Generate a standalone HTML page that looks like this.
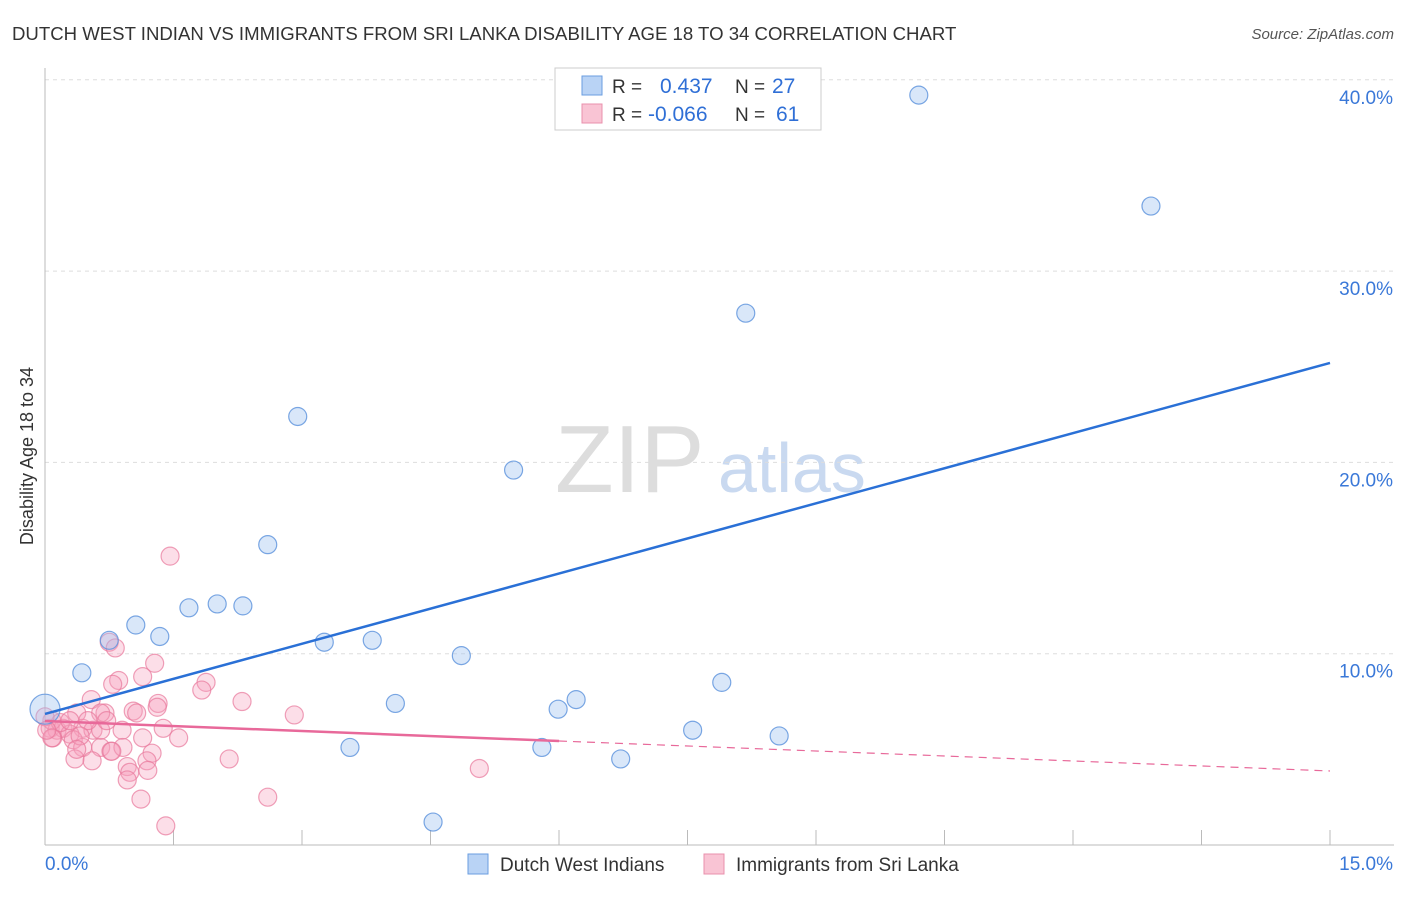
<!DOCTYPE html>
<html><head><meta charset="utf-8"><style>
body{margin:0;background:#fff;font-family:"Liberation Sans",sans-serif}
svg text{font-family:"Liberation Sans",sans-serif}
</style></head><body>
<svg id="chart" width="1406" height="892" xmlns="http://www.w3.org/2000/svg">
<text x="12" y="40" font-size="18.6" fill="#333">DUTCH WEST INDIAN VS IMMIGRANTS FROM SRI LANKA DISABILITY AGE 18 TO 34 CORRELATION CHART</text>
<text x="1394" y="39" font-size="15" fill="#555" text-anchor="end" font-style="italic">Source: ZipAtlas.com</text>
<text x="33" y="456" font-size="18" fill="#333" text-anchor="middle" transform="rotate(-90 33 456)">Disability Age 18 to 34</text>
<text x="555" y="492" font-size="96" fill="#ddd" font-family="Liberation Serif">ZIP</text>
<text x="718" y="492" font-size="70" fill="#c9d9f0">atlas</text>
<g id="grid"></g><g id="axes"></g><g id="pts"></g><g id="lines"></g>
<g>
<rect x="555" y="68" width="266" height="62" fill="#fff" stroke="#ccc"/>
<rect x="582" y="76" width="20" height="19" fill="#b9d3f5" stroke="#6a9ee0"/>
<rect x="582" y="104" width="20" height="19" fill="#f9c4d4" stroke="#e990ac"/>
<text x="612" y="93" font-size="19" fill="#333">R = </text><text x="660" y="93" font-size="21" fill="#2f6fd6">0.437</text>
<text x="735" y="93" font-size="19" fill="#333">N = </text><text x="772" y="93" font-size="21" fill="#2f6fd6">27</text>
<text x="612" y="121" font-size="19" fill="#333">R = </text><text x="648" y="121" font-size="21" fill="#2f6fd6">-0.066</text>
<text x="735" y="121" font-size="19" fill="#333">N = </text><text x="776" y="121" font-size="21" fill="#2f6fd6">61</text>
</g>
<g>
<rect x="468" y="854" width="20" height="20" fill="#b9d3f5" stroke="#6a9ee0"/>
<text x="500" y="871" font-size="19" fill="#333">Dutch West Indians</text>
<rect x="704" y="854" width="20" height="20" fill="#f9c4d4" stroke="#e990ac"/>
<text x="736" y="871" font-size="19" fill="#333">Immigrants from Sri Lanka</text>
</g>
</svg>
<script>
const xTicks=[0,15];
const yTicks=[10,20,30,40];
const blueX=[0,0.43,0.75,1.06,1.34,1.68,2.01,2.31,2.6,2.95,3.26,3.56,3.82,4.09,4.53,4.86,5.47,5.99,6.2,6.72,7.56,7.9,8.18,8.57,10.2,12.91,5.8];
const blueY=[7.1,9.0,10.7,11.5,10.9,12.4,12.6,12.5,15.7,22.4,10.6,5.1,10.7,7.4,1.2,9.9,19.6,7.1,7.6,4.5,6.0,8.5,27.8,5.7,39.2,33.4,5.1];
const pinkX=[1.46,0.75,0.82,1.28,1.14,0.86,0.79,1.88,1.83,0.54,1.32,1.31,2.3,2.91,1.03,1.07,0.7,0.65,0.37,1.38,0.9,1.56,1.14,0.44,0.56,0.06,0.14,0.21,0.29,0.09,0.08,0.18,0,0.33,0.44,0.65,0.77,0.91,1.25,1.19,0.35,0.55,0.96,0.99,1.2,0.96,2.15,1.12,2.6,1.41,5.07,0.08,0.65,0.72,0.5,0.02,0.29,0.41,0.78,0.37];
const pinkY=[15.1,10.6,10.3,9.5,8.8,8.6,8.4,8.5,8.1,7.6,7.4,7.2,7.5,6.8,7.0,6.9,6.9,6.9,6.9,6.1,6.0,5.6,5.6,6.1,6.0,6.1,6.0,6.1,5.8,5.6,6.5,6.4,6.7,5.5,5.1,5.1,4.9,5.1,4.8,4.4,4.5,4.4,4.1,3.8,3.9,3.4,4.5,2.4,2.5,1.0,4.0,5.6,6.0,6.5,6.5,6.0,6.5,5.7,4.9,5.0];
const blueLine=[6.85,25.2];
const pinkLine=[6.48,3.87];
const pinkSolidEnd=6.0;
const X=v=>45+v/15*1285, Y=v=>845-v*19.13;
const NS="http://www.w3.org/2000/svg";
function mk(tag,attrs,parent){const e=document.createElementNS(NS,tag);for(const k in attrs)e.setAttribute(k,attrs[k]);document.getElementById(parent).appendChild(e);return e;}
yTicks.forEach(t=>{
  const g=mk('line',{x1:45,x2:1394,y1:Y(t),y2:Y(t),stroke:'#ddd','stroke-dasharray':'4,4'},'grid');
  
  
  const l=mk('text',{x:1393,y:Y(t)+24,'font-size':19,fill:'#3a78d8','text-anchor':'end'},'axes');
  l.textContent=t.toFixed(1)+'%';
  
  
});
mk('line',{x1:45,x2:1394,y1:845,y2:845,stroke:'#bbb'},'axes');
mk('line',{x1:45,x2:45,y1:68,y2:845,stroke:'#bbb'},'axes');
for(let i=1;i<=10;i++){const x=X(i*1.5);mk('line',{x1:x,x2:x,y1:830,y2:845,stroke:'#bbb'},'axes');}
xTicks.forEach((t,i)=>{
  const l=mk('text',{x:i?1393:45,y:870,'font-size':19,fill:'#3a78d8','text-anchor':i?'end':'start'},'axes');
  l.textContent=t.toFixed(1)+'%';
  
  
});
pinkX.forEach((v,i)=>{
  const c=mk('circle',{cx:X(v),cy:Y(pinkY[i]),r:9,fill:'rgba(247,160,188,0.35)',stroke:'rgba(232,120,155,0.7)','stroke-width':1.2},'pts');
  
  
});
blueX.forEach((v,i)=>{
  const c=mk('circle',{cx:X(v),cy:Y(blueY[i]),r:i==0?15:9,fill:'rgba(160,196,240,0.4)',stroke:'rgba(90,145,220,0.8)','stroke-width':1.2},'pts');
  
  
});
const bl=mk('line',{x1:X(0),y1:Y(blueLine[0]),x2:X(15),y2:Y(blueLine[1]),stroke:'#2a70d6','stroke-width':2.5},'lines');


const pe=pinkLine[0]+(pinkLine[1]-pinkLine[0])*pinkSolidEnd/15;
const pl=mk('line',{x1:X(0),y1:Y(pinkLine[0]),x2:X(pinkSolidEnd),y2:Y(pe),stroke:'#e8699a','stroke-width':2.5},'lines');


const pd=mk('line',{x1:X(pinkSolidEnd),y1:Y(pe),x2:X(15),y2:Y(pinkLine[1]),stroke:'#e8699a','stroke-width':1.2,'stroke-dasharray':'8,6'},'lines');


</script>
</body></html>
